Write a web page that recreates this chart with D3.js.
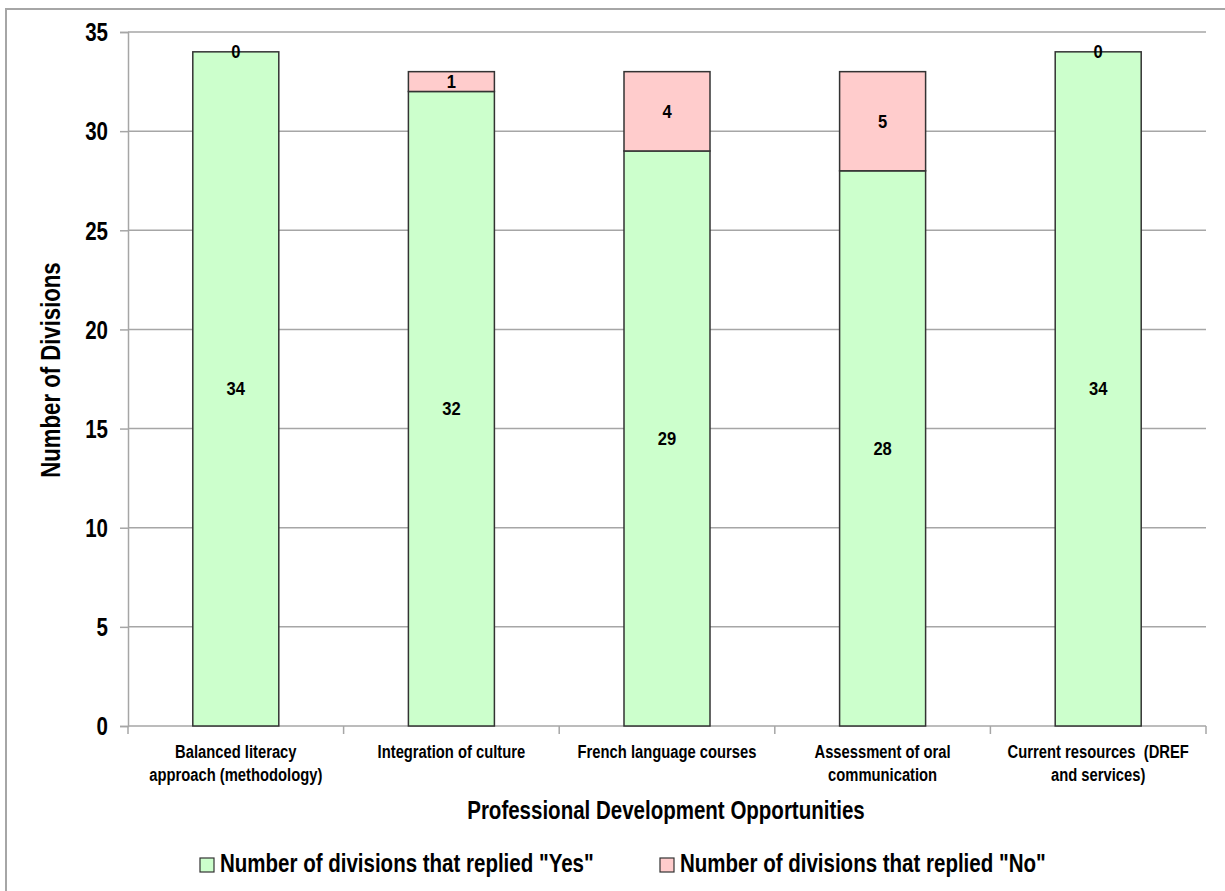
<!DOCTYPE html>
<html>
<head>
<meta charset="utf-8">
<script src="https://cdn.jsdelivr.net/npm/d3@7"></script>
<style>
  html, body { margin: 0; padding: 0; background: #fff; }
  svg { display: block; font-family: "Liberation Sans", Arial, sans-serif; }
</style>
</head>
<body>
<svg id="chart" width="1225" height="891"></svg>
<script>
// Professional development survey: stacked Yes / No counts per opportunity
const categories = [
  ["Balanced literacy", "approach (methodology)"],
  ["Integration of culture"],
  ["French language courses"],
  ["Assessment of oral", "communication"],
  ["Current resources  (DREF", "and services)"]
];
const yesValues = [34, 32, 29, 28, 34];
const noValues = [0, 1, 4, 5, 0];
const yTicks = [0, 5, 10, 15, 20, 25, 30, 35];
const seriesNames = ['Number of divisions that replied "Yes"', 'Number of divisions that replied "No"'];
const seriesColors = ["#CCFFCC", "#FFCCCC"];
const yTitle = "Number of Divisions";
const xTitle = "Professional Development Opportunities";

const svg = d3.select("#chart");
const plot = { left: 128, right: 1206, top: 32, bottom: 726 };
const NARROW = 0.82; // condensed bold face, like Arial Narrow

// squeeze a text or tspan horizontally to a fraction of its natural width
function condense(sel, factor) {
  sel.each(function () {
    const w = this.getComputedTextLength();
    d3.select(this).attr("textLength", w * factor).attr("lengthAdjust", "spacingAndGlyphs");
  });
}

// outer frame
svg.append("rect")
  .attr("x", 6).attr("y", 9)
  .attr("width", 1240).attr("height", 900)
  .attr("fill", "none").attr("stroke", "#a6a6a6").attr("stroke-width", 2);

const x = d3.scaleBand()
  .domain(d3.range(categories.length))
  .range([plot.left, plot.right])
  .paddingInner(0).paddingOuter(0);

const y = d3.scaleLinear().domain([0, 35]).range([plot.bottom, plot.top]);

// horizontal gridlines
svg.append("g").selectAll("line")
  .data(yTicks.filter(d => d > 0))
  .join("line")
  .attr("x1", plot.left).attr("x2", plot.right)
  .attr("y1", d => y(d)).attr("y2", d => y(d))
  .attr("stroke", "#a6a6a6").attr("stroke-width", 1.5);

// y axis
const yAxis = svg.append("g")
  .attr("transform", `translate(${plot.left},0)`)
  .call(d3.axisLeft(y).tickValues(yTicks).tickSize(8).tickPadding(12).tickFormat(d3.format("d")));
yAxis.select(".domain").attr("stroke", "#a6a6a6").attr("stroke-width", 1.5);
yAxis.selectAll(".tick line").attr("stroke", "#a6a6a6").attr("stroke-width", 1.5);
yAxis.selectAll(".tick text")
  .attr("font-size", 25).attr("font-weight", "bold").attr("fill", "#000")
  .attr("font-family", "Liberation Sans, Arial, sans-serif")
  .attr("dy", "0.35em")
  .call(condense, NARROW);

// x axis with ticks at category boundaries
const boundaries = d3.range(categories.length + 1).map(i => plot.left + i * x.bandwidth());
svg.append("line")
  .attr("x1", plot.left).attr("x2", plot.right)
  .attr("y1", plot.bottom).attr("y2", plot.bottom)
  .attr("stroke", "#a6a6a6").attr("stroke-width", 1.5);
svg.append("g").selectAll("line")
  .data(boundaries)
  .join("line")
  .attr("x1", d => d).attr("x2", d => d)
  .attr("y1", plot.bottom).attr("y2", plot.bottom + 8)
  .attr("stroke", "#a6a6a6").attr("stroke-width", 1.5);

// category labels
const catG = svg.append("g");
categories.forEach((lines, i) => {
  lines.forEach((ln, j) => {
    catG.append("text")
      .attr("x", x(i) + x.bandwidth() / 2)
      .attr("y", 758 + j * 23)
      .attr("text-anchor", "middle")
      .attr("font-size", 18).attr("font-weight", "bold")
      .style("white-space", "pre")
      .text(ln);
  });
});
catG.selectAll("text").call(condense, NARROW);

// stacked bars
const barW = 86;
const stackData = categories.map((c, i) => ({ i, yes: yesValues[i], no: noValues[i] }));
const stack = d3.stack().keys(["yes", "no"])(stackData);

const barG = svg.append("g");
stack.forEach((layer, k) => {
  barG.selectAll(null)
    .data(layer)
    .join("rect")
    .attr("x", d => x(d.data.i) + x.bandwidth() / 2 - barW / 2)
    .attr("y", d => y(d[1]))
    .attr("width", barW)
    .attr("height", d => y(d[0]) - y(d[1]))
    .attr("fill", seriesColors[k])
    .attr("stroke", "#333")
    .attr("stroke-width", 1.5);
});

// value labels centred in each segment
stack.forEach((layer, k) => {
  barG.selectAll(null)
    .data(layer)
    .join("text")
    .attr("class", "value")
    .attr("x", d => x(d.data.i) + x.bandwidth() / 2)
    .attr("y", d => (y(d[0]) + y(d[1])) / 2)
    .attr("dy", "0.36em")
    .attr("text-anchor", "middle")
    .attr("font-size", 18).attr("font-weight", "bold")
    .text(d => d[1] - d[0]);
});
barG.selectAll("text.value").call(condense, 0.92);

// axis titles
svg.append("text")
  .attr("transform", `translate(60,370) rotate(-90)`)
  .attr("text-anchor", "middle")
  .attr("font-size", 27).attr("font-weight", "bold")
  .text(yTitle)
  .call(condense, NARROW);

svg.append("text")
  .attr("x", 666).attr("y", 819)
  .attr("text-anchor", "middle")
  .attr("font-size", 25).attr("font-weight", "bold")
  .text(xTitle)
  .call(condense, NARROW);

// legend
const legendX = [200, 660];
const legG = svg.append("g");
seriesNames.forEach((name, k) => {
  legG.append("rect")
    .attr("x", legendX[k]).attr("y", 858)
    .attr("width", 14).attr("height", 14)
    .attr("fill", seriesColors[k]).attr("stroke", "#333").attr("stroke-width", 1.2);
  legG.append("text")
    .attr("x", legendX[k] + 20).attr("y", 872)
    .attr("font-size", 25).attr("font-weight", "bold")
    .text(name)
    .call(condense, NARROW);
});
</script>
</body>
</html>
